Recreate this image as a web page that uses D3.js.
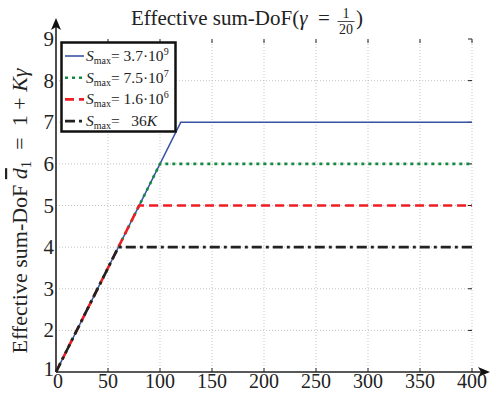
<!DOCTYPE html>
<html>
<head>
<meta charset="utf-8">
<script src="https://cdn.jsdelivr.net/npm/d3@7"></script>
<style>
  body { margin: 0; background: #fff; }
  text { font-family: "Liberation Serif", "DejaVu Serif", serif; fill: #222; }
</style>
</head>
<body>
<div id="chart"></div>
<script>
// data
var xTicks = [0, 50, 100, 150, 200, 250, 300, 350, 400];
var yTicks = [1, 2, 3, 4, 5, 6, 7, 8, 9];
var seriesNames = ["3.7", "7.5", "1.6", "36K"];
var seriesExp = ["9", "7", "6", ""];
var seriesX = [[0, 120, 400], [0, 100, 400], [0, 80, 400], [0, 60, 400]];
var seriesY = [[1, 7, 7], [1, 6, 6], [1, 5, 5], [1, 4, 4]];
var colors = ["#3953a4", "#138a42", "#ee1c25", "#222222"];
var dashes = [null, "3,4", "9,5", "10,4,3,4"];

var W = 497, H = 393;
var margin = { left: 56, right: 25, top: 39, bottom: 21 };
var NB = "\u00a0";

var svg = d3.select("#chart").append("svg")
  .attr("width", W).attr("height", H);

var x = d3.scaleLinear().domain([0, 400]).range([margin.left, 472]);
var y = d3.scaleLinear().domain([1, 9]).range([372, margin.top]);

// grid
svg.append("g").selectAll("line").data(xTicks.slice(1))
  .enter().append("line")
  .attr("x1", d => x(d)).attr("x2", d => x(d))
  .attr("y1", y(1)).attr("y2", y(9))
  .attr("stroke", "#b5b5b5").attr("stroke-width", 0.8)
  .attr("stroke-dasharray", "1,2");
svg.append("g").selectAll("line").data(yTicks.slice(1, -1))
  .enter().append("line")
  .attr("x1", x(0)).attr("x2", x(400))
  .attr("y1", d => y(d)).attr("y2", d => y(d))
  .attr("stroke", "#b5b5b5").attr("stroke-width", 0.8)
  .attr("stroke-dasharray", "1,2");

// top & right ticks
svg.append("g").selectAll("line").data(xTicks.slice(1))
  .enter().append("line")
  .attr("x1", d => x(d)).attr("x2", d => x(d))
  .attr("y1", y(9)).attr("y2", y(9) + 4)
  .attr("stroke", "#222");
svg.append("g").selectAll("line").data(yTicks.slice(1))
  .enter().append("line")
  .attr("x1", x(400) - 4).attr("x2", x(400))
  .attr("y1", d => y(d)).attr("y2", d => y(d))
  .attr("stroke", "#222");

// lines
var line = d3.line()
  .x(d => x(d[0]))
  .y(d => y(d[1]));

seriesX.forEach(function (xs, i) {
  var pts = xs.map((v, j) => [v, seriesY[i][j]]);
  svg.append("path")
    .datum(pts)
    .attr("d", line)
    .attr("fill", "none")
    .attr("stroke", colors[i])
    .attr("stroke-width", i == 0 ? 1.6 : 2.6)
    .attr("stroke-dasharray", dashes[i]);
});

// axes
var ax = svg.append("g").attr("stroke", "#222").attr("stroke-width", 1.6);
ax.append("line").attr("x1", x(0)).attr("x2", 484).attr("y1", y(1)).attr("y2", y(1));
ax.append("line").attr("x1", x(0)).attr("x2", x(0)).attr("y1", y(1)).attr("y2", 26);
svg.append("path").attr("d", "M490," + y(1) + " L478," + (y(1) - 5) + " L481," + y(1) + " L478," + (y(1) + 5) + "Z").attr("fill", "#111");
svg.append("path").attr("d", "M" + x(0) + ",18 L" + (x(0) - 5) + ",30 L" + x(0) + ",27 L" + (x(0) + 5) + ",30Z").attr("fill", "#111");

svg.append("g").selectAll("line").data(xTicks.slice(1))
  .enter().append("line")
  .attr("x1", d => x(d)).attr("x2", d => x(d))
  .attr("y1", y(1)).attr("y2", y(1) - 4)
  .attr("stroke", "#222");

svg.append("g").selectAll("text").data(xTicks)
  .enter().append("text")
  .attr("x", d => x(d) + (d == 0 ? 2 : 0)).attr("y", 388)
  .attr("text-anchor", "middle")
  .style("font-size", "20px")
  .text(d => d);

svg.append("g").selectAll("text").data(yTicks)
  .enter().append("text")
  .attr("x", x(0) - 2).attr("y", d => y(d) + (d == 1 ? 4 : 7))
  .attr("text-anchor", "end")
  .style("font-size", "21px")
  .text(d => d);

// title
var title = svg.append("text")
  .attr("x", 131).attr("y", 25)
  .style("font-size", "21px");
title.append("tspan").text("Effective sum-DoF(");
title.append("tspan").style("font-style", "italic").text("γ");
title.append("tspan").text(NB + NB + "=" + NB);
var tw = title.node().getComputedTextLength();
var fx = 131 + tw + 11;
svg.append("text").attr("x", fx).attr("y", 18).attr("text-anchor", "middle")
  .style("font-size", "14px").text("1");
svg.append("line").attr("x1", fx - 8.5).attr("x2", fx + 8.5).attr("y1", 21.5).attr("y2", 21.5)
  .attr("stroke", "#222").attr("stroke-width", 0.8);
svg.append("text").attr("x", fx).attr("y", 34).attr("text-anchor", "middle")
  .style("font-size", "14px").text("20");
svg.append("text").attr("x", fx + 10).attr("y", 25)
  .style("font-size", "21px").text(")");

// y label
var ylab = svg.append("text")
  .attr("transform", "translate(27,211) rotate(-90)")
  .attr("text-anchor", "middle")
  .style("font-size", "22px");
ylab.append("tspan").text("Effective sum-DoF" + NB);
ylab.append("tspan").style("font-style", "italic").style("text-decoration", "overline").text("d");
ylab.append("tspan").attr("dy", 4).style("font-size", "15px").text("1");
ylab.append("tspan").attr("dy", -4).text(NB + NB + "=" + NB + NB + "1" + NB + "+" + NB);
ylab.append("tspan").style("font-style", "italic").text("Kγ");

// legend
var legend = svg.append("g");
legend.append("rect")
  .attr("x", 61.5).attr("y", 42.5).attr("width", 114).attr("height", 89)
  .attr("fill", "#fff").attr("stroke", "#111").attr("stroke-width", 2.5);

seriesNames.forEach(function (name, i) {
  var ly = 56 + i * 21.7;
  legend.append("line")
    .attr("x1", 65).attr("x2", 84).attr("y1", ly).attr("y2", ly)
    .attr("stroke", colors[i])
    .attr("stroke-width", i == 0 ? 1.6 : 2.6)
    .attr("stroke-dasharray", dashes[i]);
  var t = legend.append("text").attr("x", 86).attr("y", ly + 5).style("font-size", "15.5px");
  t.append("tspan").style("font-style", "italic").text("S");
  t.append("tspan").attr("dy", 3).style("font-size", "10px").text("max");
  if (seriesExp[i] != "") {
    t.append("tspan").attr("dy", -3).text("=" + NB + name + "·10");
    t.append("tspan").attr("dy", -6).style("font-size", "10px").text(seriesExp[i]);
  } else {
    t.append("tspan").attr("dy", -3).text("=" + NB + NB + NB + "36");
    t.append("tspan").style("font-style", "italic").text("K");
  }
});
</script>
</body>
</html>
